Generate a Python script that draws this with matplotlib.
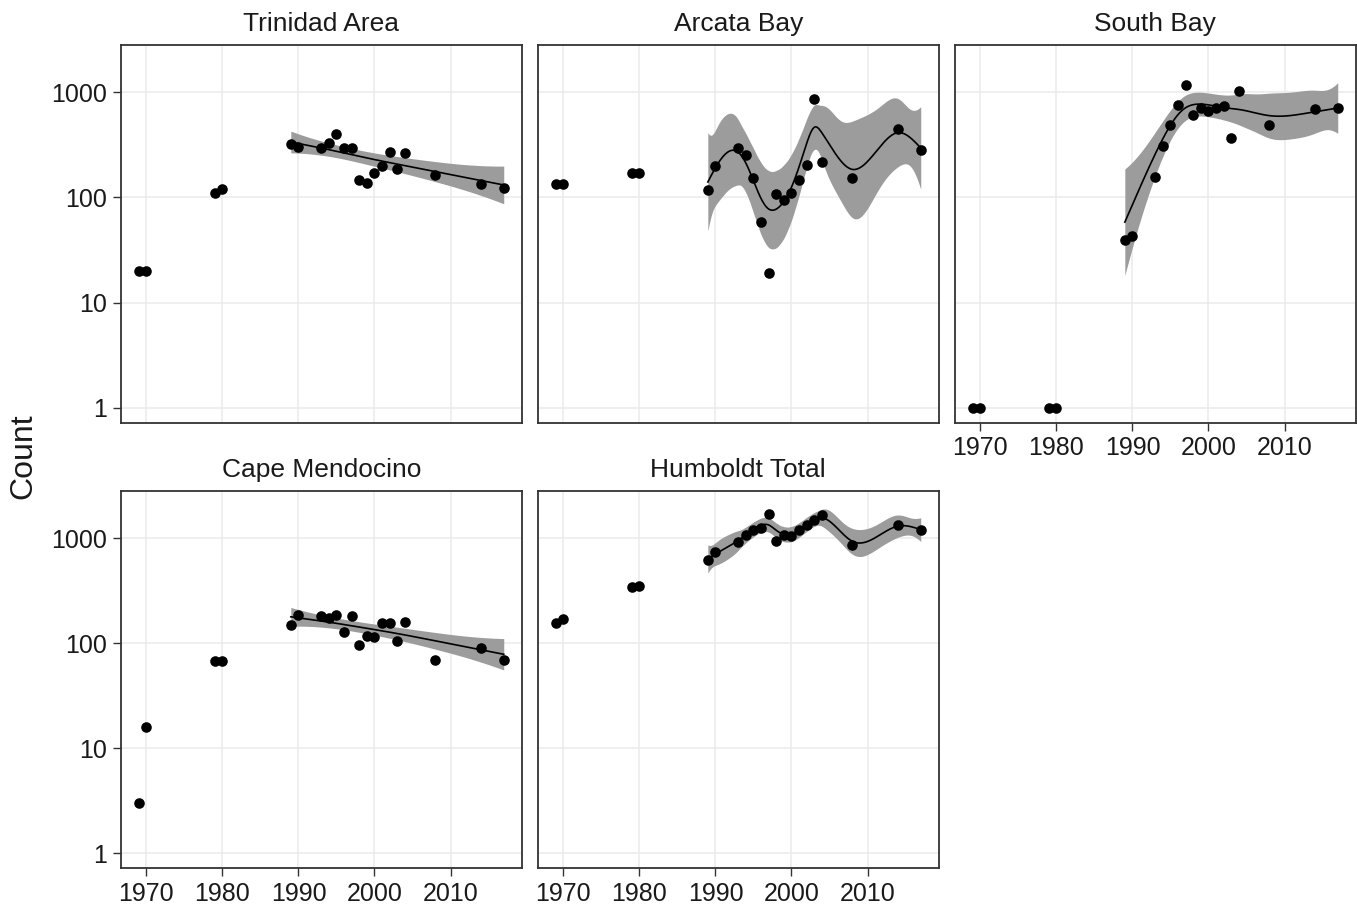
import numpy as np
import matplotlib
matplotlib.use('Agg')
import matplotlib.pyplot as plt

plt.rcParams['font.family'] = ['Liberation Sans', 'DejaVu Sans']

# ---------------- data ----------------
years = [1969, 1970, 1979, 1980, 1989, 1990, 1993, 1994, 1995, 1996, 1997,
         1998, 1999, 2000, 2001, 2002, 2003, 2004, 2008, 2014, 2017]

trinidad = [20, 20, 109, 120, 322, 304, 297, 332, 401, 297, 297,
            146, 136, 172, 200, 272, 185, 266, 162, 134, 123]
arcata = [133, 133, 171, 171, 117, 199, 298, 252, 154, 59, 19,
          108, 94, 110, 148, 202, 863, 218, 154, 443, 281]
south_bay = [1, 1, 1, 1, 39, 43, 156, 309, 484, 757, 1175,
             607, 714, 664, 703, 746, 364, 1037, 484, 693, 703]
cape_mendocino = [3, 16, 68, 68, 149, 185, 181, 172, 185, 128, 181,
                  96, 117, 115, 154, 154, 104, 160, 69, 90, 69]
humboldt_total = [154, 169, 340, 351, 617, 729, 916, 1060, 1200, 1246, 1695,
                  943, 1076, 1037, 1200, 1341, 1497, 1671, 851, 1341, 1183]

panel_titles = ["Trinidad Area", "Arcata Bay", "South Bay", "Cape Mendocino", "Humboldt Total"]
panel_values = [trinidad, arcata, south_bay, cape_mendocino, humboldt_total]
# smoothness: "REML", "GCV" or a target effective degrees of freedom
smooth_criterion = ["REML", 8.0, "REML", "REML", 9.0]
fit_start_year = 1989

x_ticks = [1970, 1980, 1990, 2000, 2010]
y_ticks = [1, 10, 100, 1000]
y_tick_labels = ["1", "10", "100", "1000"]


# ------- quasi-Poisson penalized cubic spline smoother (knots at all unique x) -------
def cr_basis(x, knots):
    k = len(knots)
    h = np.diff(knots)
    D = np.zeros((k - 2, k))
    B = np.zeros((k - 2, k - 2))
    for i in range(k - 2):
        D[i, i] = 1 / h[i]
        D[i, i + 1] = -1 / h[i] - 1 / h[i + 1]
        D[i, i + 2] = 1 / h[i + 1]
        B[i, i] = (h[i] + h[i + 1]) / 3
        if i < k - 3:
            B[i, i + 1] = B[i + 1, i] = h[i + 1] / 6
    BinvD = np.linalg.solve(B, D)
    F = np.vstack([np.zeros(k), BinvD, np.zeros(k)])
    S = D.T @ BinvD
    X = np.zeros((len(x), k))
    for r, xv in enumerate(x):
        j = int(np.clip(np.searchsorted(knots, xv, side='right') - 1, 0, k - 2))
        hj = h[j]
        am = (knots[j + 1] - xv) / hj
        ap = (xv - knots[j]) / hj
        cm = ((knots[j + 1] - xv) ** 3 / hj - hj * (knots[j + 1] - xv)) / 6
        cp = ((xv - knots[j]) ** 3 / hj - hj * (xv - knots[j])) / 6
        row = cm * F[j] + cp * F[j + 1]
        row[j] += am
        row[j + 1] += ap
        X[r] = row
    return X, S


def pirls(Xf, Sf, y, lam, beta):
    for _ in range(80):
        eta = Xf @ beta
        mu = np.exp(eta)
        z = eta + (y - mu) / mu
        XtW = Xf.T * mu
        A = XtW @ Xf + lam * Sf
        bn = np.linalg.solve(A, XtW @ z)
        done = np.max(np.abs(bn - beta)) < 1e-9
        beta = bn
        if done:
            break
    eta = Xf @ beta
    mu = np.exp(eta)
    z = eta + (y - mu) / mu
    w = mu
    XtW = Xf.T * w
    A = XtW @ Xf + lam * Sf
    return beta, mu, z, w, A, XtW @ Xf


def gam_fit(x, y, xg, criterion="REML", shrink=0.1):
    n = len(x)
    knots = np.unique(x)
    k = len(knots)
    X, S = cr_basis(x, knots)
    ev, U = np.linalg.eigh(S)
    order = np.argsort(ev)[::-1]
    ev, U = ev[order], U[:, order]
    ev[k - 2] = ev[k - 3] * shrink
    ev[k - 1] = ev[k - 2] * shrink
    S = (U * ev) @ U.T
    C = X.sum(axis=0).reshape(-1, 1)
    Q, _ = np.linalg.qr(C, mode='complete')
    Z = Q[:, 1:]
    Xf = np.column_stack([np.ones(n), X @ Z])
    p = Xf.shape[1]
    Sf = np.zeros((p, p))
    Sf[1:, 1:] = Z.T @ S @ Z
    Mp = 1
    r = p - 1
    best = None
    beta = np.linalg.solve(Xf.T @ Xf + 1e-6 * np.eye(p), Xf.T @ np.log(y))
    for ll in np.linspace(14, -8, 441):
        lam = np.exp(ll)
        beta, mu, z, w, A, XWX = pirls(Xf, Sf, y, lam, beta)
        eta = Xf @ beta
        Ainv = np.linalg.inv(A)
        edf = np.trace(Ainv @ XWX)
        if criterion == "REML":
            Dw = np.sum(w * (z - eta) ** 2) + lam * beta @ Sf @ beta
            _, logdet = np.linalg.slogdet(A)
            V = (n - Mp) * np.log(Dw) + logdet - r * np.log(lam)
        elif criterion == "GCV":
            dev = 2 * np.sum(y * np.log(y / mu) - (y - mu))
            V = n * dev / (n - edf) ** 2
        else:
            V = abs(edf - float(criterion))
        if best is None or V < best[0]:
            best = (V, beta.copy(), Ainv, w, z, eta, edf)
    _, beta, Ainv, w, z, eta, edf = best
    phi = np.sum(w * (z - eta) ** 2) / (n - edf)
    Vp = Ainv * phi
    Xg, _ = cr_basis(xg, knots)
    Xgf = np.column_stack([np.ones(len(xg)), Xg @ Z])
    fit = Xgf @ beta
    se = np.sqrt(np.einsum('ij,jk,ik->i', Xgf, Vp, Xgf))
    zq = 1.959964
    return np.exp(fit), np.exp(fit - zq * se), np.exp(fit + zq * se)


# ---------------- figure ----------------
W, H = 1357, 907
fig = plt.figure(figsize=(W / 100, H / 100), dpi=100)

col_left = [120.5, 537.5, 954.5]
pw = 401.5
row_top = [45.0, 490.7]
ph = 377.7
positions = [(0, 0), (0, 1), (0, 2), (1, 0), (1, 1)]

yr = np.array(years, dtype=float)
xlim = (1966.6, 2019.4)
ylim = (10 ** -0.143, 10 ** 3.45)

border_col = '#333333'
grid_col = '#EBEBEB'
text_col = '#1a1a1a'

for i, (title, vals) in enumerate(zip(panel_titles, panel_values)):
    r, c = positions[i]
    left = col_left[c] / W
    bottom = 1 - (row_top[r] + ph) / H
    ax = fig.add_axes([left, bottom, pw / W, ph / H])
    ax.set_yscale('log')
    ax.set_xlim(*xlim)
    ax.set_ylim(*ylim)

    v = np.array(vals, dtype=float)
    ax.scatter(yr, v, s=58, color='black', zorder=4, linewidths=0)

    m = yr >= fit_start_year
    xs = yr[m] - 2000.0
    ys = v[m]
    xg = np.linspace(xs.min(), xs.max(), 200)
    fit, lo, hi = gam_fit(xs, ys, xg, smooth_criterion[i])
    ax.fill_between(xg + 2000.0, lo, hi, color='#9c9c9c', lw=0, zorder=2)
    ax.plot(xg + 2000.0, fit, color='black', lw=1.2, zorder=3)

    ax.set_xticks(x_ticks)
    ax.set_yticks(y_ticks)
    ax.set_yticklabels(y_tick_labels)
    ax.minorticks_off()
    ax.grid(True, which='major', color=grid_col, lw=1.1, zorder=0)
    ax.set_axisbelow(True)
    for sp in ax.spines.values():
        sp.set_color(border_col)
        sp.set_linewidth(1.3)

    show_y = (c == 0)
    show_x = (r == 1) or (c == 2)
    ax.tick_params(axis='y', left=show_y, labelleft=show_y, length=5.5, width=1.0,
                   color=border_col, labelsize=18, labelcolor=text_col, pad=4)
    ax.tick_params(axis='x', bottom=show_x, labelbottom=show_x, length=5.5, width=1.0,
                   color=border_col, labelsize=18, labelcolor=text_col, pad=4)
    ax.set_title(title, fontsize=19, color=text_col, pad=10)

fig.text(23.5 / W, 1 - 456.6 / H, "Count", rotation=90, fontsize=23,
         color=text_col, ha='center', va='center')

fig.savefig('out.png', dpi=100, facecolor='white')
